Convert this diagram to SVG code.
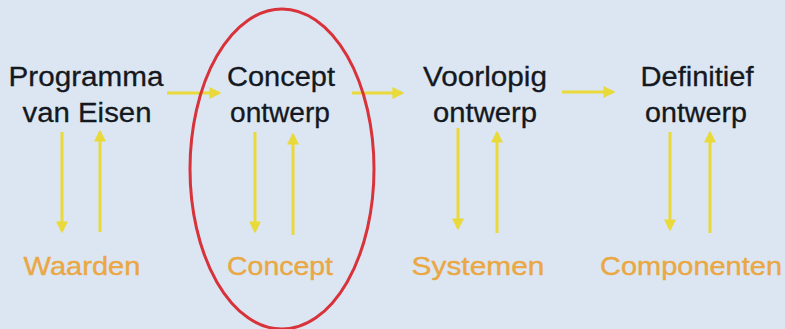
<svg xmlns="http://www.w3.org/2000/svg" width="785" height="329" viewBox="0 0 785 329">
<defs>
<marker id="ah" viewBox="0 0 10 10" refX="8" refY="5" markerWidth="4" markerHeight="4" orient="auto" markerUnits="strokeWidth">
<path d="M0,0 L10,5 L0,10 z" fill="#e9d93a"/>
</marker>
</defs>
<style>
.t{font-family:"Liberation Sans",Arial,sans-serif;font-size:27px;fill:#141820;text-anchor:middle;stroke:#141820;stroke-width:0.3}
.o{font-family:"Liberation Sans",Arial,sans-serif;font-size:26px;fill:#e9a844;text-anchor:middle;stroke:#e9a844;stroke-width:0.4}
.a{stroke:#e9d93a;stroke-width:3;fill:none;marker-end:url(#ah)}
</style>
<rect width="785" height="329" fill="#dce6f2"/>
<g id="connectors">
<line class="a" x1="167" y1="93" x2="219" y2="93"/>
<line class="a" x1="352" y1="93" x2="402" y2="93"/>
<line class="a" x1="562" y1="92" x2="613" y2="92"/>
<line class="a" x1="62" y1="132" x2="62" y2="231"/>
<line class="a" x1="100" y1="232" x2="100" y2="132"/>
<line class="a" x1="255" y1="132" x2="255" y2="231"/>
<line class="a" x1="293" y1="235" x2="293" y2="135"/>
<line class="a" x1="458" y1="128" x2="458" y2="228"/>
<line class="a" x1="497" y1="233" x2="497" y2="133"/>
<line class="a" x1="670" y1="132" x2="670" y2="229"/>
<line class="a" x1="710" y1="233" x2="710" y2="133"/>
</g>
<g id="n-pve">
<text class="t" x="86" y="86" textLength="155" lengthAdjust="spacingAndGlyphs">Programma</text>
<text class="t" x="87" y="122" textLength="129" lengthAdjust="spacingAndGlyphs">van Eisen</text>
</g>
<g id="n-co">
<text class="t" x="281" y="86" textLength="108" lengthAdjust="spacingAndGlyphs">Concept</text>
<text class="t" x="280" y="122" textLength="100" lengthAdjust="spacingAndGlyphs">ontwerp</text>
</g>
<g id="n-vo">
<text class="t" x="485" y="86" textLength="124" lengthAdjust="spacingAndGlyphs">Voorlopig</text>
<text class="t" x="485" y="122" textLength="104" lengthAdjust="spacingAndGlyphs">ontwerp</text>
</g>
<g id="n-do">
<text class="t" x="697" y="86" textLength="113" lengthAdjust="spacingAndGlyphs">Definitief</text>
<text class="t" x="696" y="122" textLength="102" lengthAdjust="spacingAndGlyphs">ontwerp</text>
</g>
<g id="n-waarden"><text class="o" x="82" y="275" textLength="117" lengthAdjust="spacingAndGlyphs">Waarden</text></g>
<g id="n-concept"><text class="o" x="280" y="275" textLength="106" lengthAdjust="spacingAndGlyphs">Concept</text></g>
<g id="n-systemen"><text class="o" x="478" y="275" textLength="133" lengthAdjust="spacingAndGlyphs">Systemen</text></g>
<g id="n-componenten"><text class="o" x="691" y="275" textLength="182" lengthAdjust="spacingAndGlyphs">Componenten</text></g>
<g id="highlight">
<ellipse cx="282" cy="169" rx="92" ry="160" fill="none" stroke="#d8333a" stroke-width="3"/>
</g>
</svg>
